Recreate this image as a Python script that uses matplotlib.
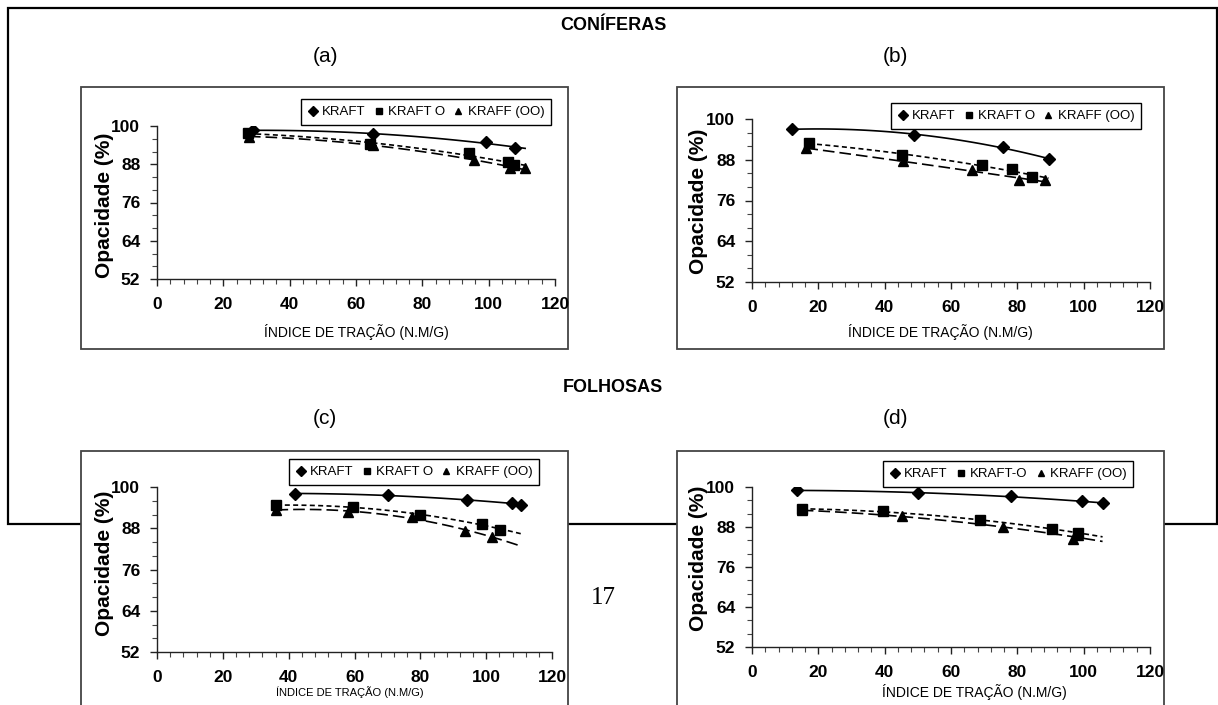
import matplotlib
matplotlib.use("Agg")
import matplotlib.pyplot as plt
import numpy as np
from matplotlib.patches import Rectangle
from matplotlib.lines import Line2D
from matplotlib import font_manager

W, H = 1218, 705

# ---- dados ----
# (a) coníferas
a_kraft_x = [28.9, 65.0, 99.2, 108.0]
a_kraft_y = [98.7, 97.4, 95.1, 93.0]
a_kraftO_x = [27.4, 64.1, 94.2, 105.7, 107.5]
a_kraftO_y = [97.7, 94.4, 91.4, 88.8, 87.8]
a_kraftOO_x = [27.7, 65.2, 95.7, 106.4, 111.0]
a_kraftOO_y = [96.7, 94.0, 89.4, 86.7, 86.7]

# (b) coníferas
b_kraft_x = [12.0, 48.7, 75.8, 89.4]
b_kraft_y = [97.0, 95.4, 91.7, 88.2]
b_kraftO_x = [17.1, 45.2, 69.3, 78.3, 84.3]
b_kraftO_y = [92.9, 89.3, 86.5, 85.3, 82.9]
b_kraftOO_x = [16.4, 45.5, 66.3, 80.6, 88.4]
b_kraftOO_y = [91.4, 87.5, 85.0, 81.9, 81.9]

# (c) folhosas
c_kraft_x = [41.9, 70.3, 94.1, 107.8, 110.5]
c_kraft_y = [98.1, 97.6, 96.1, 95.4, 94.9]
c_kraftO_x = [36.3, 59.6, 79.9, 98.7, 104.3]
c_kraftO_y = [94.7, 94.2, 91.8, 89.3, 87.6]
c_kraftOO_x = [36.3, 58.1, 77.4, 93.6, 101.7]
c_kraftOO_y = [93.4, 92.7, 91.3, 87.2, 85.6]

# (d) folhosas
d_kraft_x = [13.6, 49.9, 78.1, 99.4, 105.7]
d_kraft_y = [99.0, 98.2, 97.2, 95.7, 95.2]
d_kraftO_x = [15.1, 39.5, 68.8, 90.4, 98.4]
d_kraftO_y = [93.4, 92.7, 90.0, 87.4, 86.3]
d_kraftOO_x = [15.0, 45.2, 75.6, 96.9, 98.2]
d_kraftOO_y = [93.0, 91.2, 88.0, 84.3, 85.6]

legend_a = ["KRAFT", "KRAFT O", "KRAFF (OO)"]
legend_d = ["KRAFT", "KRAFT-O", "KRAFF (OO)"]
y_ticks = [52, 64, 76, 88, 100]
x_ticks = [0, 20, 40, 60, 80, 100, 120]

names = {f.name for f in font_manager.fontManager.ttflist}
narrow = "Liberation Sans Narrow" if "Liberation Sans Narrow" in names else "Liberation Sans"
plt.rcParams["font.family"] = ["Liberation Sans", "DejaVu Sans"]


def fx(x):
    return x / W


def fy(y):
    return 1 - y / H


fig = plt.figure(figsize=(W / 100, H / 100), dpi=100)

# moldura externa
fig.patches.append(Rectangle((fx(8), fy(524)), fx(1217) - fx(8), fy(8) - fy(524),
                             transform=fig.transFigure, fill=False, ec="black",
                             lw=1.6, zorder=-3))


def panel_box(x0, y0, x1, y1):
    fig.patches.append(Rectangle((fx(x0), fy(y1)), fx(x1) - fx(x0), fy(y0) - fy(y1),
                                 transform=fig.transFigure, fc="white", ec="#444444",
                                 lw=1.3, zorder=-2))


def painel(box, ax_rect, series, labels, leg_c, ylab_c, xlab_c, xlab_size):
    panel_box(*box)
    l, t, r, b = ax_rect
    ax = fig.add_axes([fx(l), fy(b), fx(r) - fx(l), fy(t) - fy(b)])
    ax.patch.set_visible(False)
    xmax = max(max(s[0]) for s in series)
    markers = ["D", "s", "^"]
    sizes = [6.5, 7, 7.5]
    styles = ["-", (0, (3, 2)), (0, (7, 3))]
    handles = []
    for (xs, ys), m, ms, ls in zip(series, markers, sizes, styles):
        xs = np.array(xs)
        ys = np.array(ys)
        coef = np.polyfit(xs, ys, 2)
        xx = np.linspace(xs.min(), xmax, 60)
        ax.plot(xx, np.polyval(coef, xx), color="black", lw=1.2, ls=ls)
        ax.plot(xs, ys, ls="none", marker=m, ms=ms, color="black")
        handles.append(Line2D([], [], ls="none", marker=m, ms=5, color="black"))
    ax.set_xlim(0, 120)
    ax.set_ylim(52, 100)
    ax.set_xticks(x_ticks)
    ax.set_yticks(y_ticks)
    ax.set_xticks(np.arange(0, 121, 4), minor=True)
    ax.set_yticks(np.arange(52, 101, 4), minor=True)
    for s in ["top", "right"]:
        ax.spines[s].set_visible(False)
    for s in ["left", "bottom"]:
        ax.spines[s].set_color("#222222")
        ax.spines[s].set_linewidth(1.0)
    ax.tick_params(which="major", length=5, width=1, color="#222222")
    ax.tick_params(which="minor", length=3.5, width=0.8, color="#444444")
    ax.tick_params(axis="y", pad=7)
    ax.tick_params(axis="x", pad=8)
    for lab in ax.get_xticklabels() + ax.get_yticklabels():
        lab.set_family(narrow)
        lab.set_fontweight("bold")
        lab.set_fontsize(12.5)
    leg = ax.legend(handles, labels, loc="center", ncol=3,
                    bbox_to_anchor=(fx(leg_c[0]), fy(leg_c[1])),
                    bbox_transform=fig.transFigure, fontsize=9.5,
                    handlelength=0.8, handletextpad=0.3, columnspacing=0.6,
                    borderpad=0.5, fancybox=False, framealpha=1)
    leg.get_frame().set_edgecolor("black")
    leg.get_frame().set_linewidth(1.0)
    fig.text(fx(ylab_c[0]), fy(ylab_c[1]), "Opacidade (%)", rotation=90,
             ha="center", va="center", fontsize=15, fontweight="bold")
    fig.text(fx(xlab_c[0]), fy(xlab_c[1]), "ÍNDICE DE TRAÇÃO (N.M/G)",
             ha="center", va="center", fontsize=xlab_size, family=[narrow, "DejaVu Sans"])
    return ax


painel((81, 87, 568, 349), (157, 126, 555, 279),
       [(a_kraft_x, a_kraft_y), (a_kraftO_x, a_kraftO_y), (a_kraftOO_x, a_kraftOO_y)],
       legend_a, (426, 112), (105, 205), (356, 332), 10)
painel((677, 87, 1164, 349), (752, 119, 1150, 282),
       [(b_kraft_x, b_kraft_y), (b_kraftO_x, b_kraftO_y), (b_kraftOO_x, b_kraftOO_y)],
       legend_a, (1016, 116), (699, 201), (940, 332), 10)
painel((81, 451, 568, 720), (157, 487, 552, 652),
       [(c_kraft_x, c_kraft_y), (c_kraftO_x, c_kraftO_y), (c_kraftOO_x, c_kraftOO_y)],
       legend_a, (414, 472), (105, 563), (350, 692), 8)
painel((677, 451, 1164, 720), (752, 487, 1150, 647),
       [(d_kraft_x, d_kraft_y), (d_kraftO_x, d_kraftO_y), (d_kraftOO_x, d_kraftOO_y)],
       legend_d, (1008, 474), (698, 558), (974, 692), 10)

fig.text(fx(613), fy(26), "CONÍFERAS", ha="center", va="center",
         fontsize=13, fontweight="bold")
fig.text(fx(613), fy(388), "FOLHOSAS", ha="center", va="center",
         fontsize=13, fontweight="bold")
for lab, x, y in [("(a)", 325, 57), ("(b)", 895, 57), ("(c)", 325, 418), ("(d)", 895, 418)]:
    fig.text(fx(x), fy(y), lab, ha="center", va="center", fontsize=15)
fig.text(fx(603), fy(598), "17", ha="center", va="center", fontsize=18,
         family=["Liberation Serif", "DejaVu Serif"])

fig.savefig("out.png", dpi=100)
